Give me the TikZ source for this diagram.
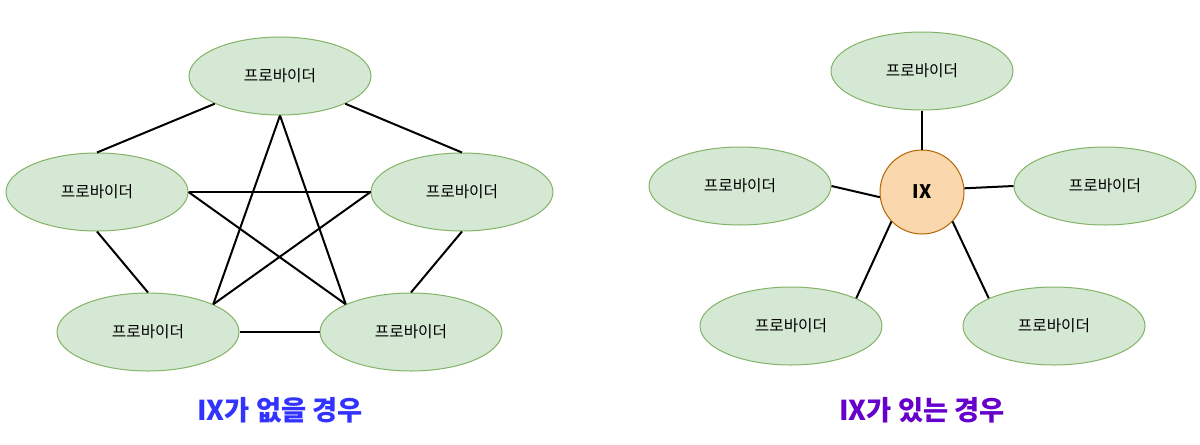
\documentclass[tikz,border=0pt]{standalone}
\usepackage{fontspec}
\setmainfont{Noto Sans CJK KR}
\usetikzlibrary{shapes.geometric}
\definecolor{provfill}{HTML}{D5E8D4}
\definecolor{provdraw}{HTML}{82B366}
\definecolor{ixfill}{HTML}{FAD7AC}
\definecolor{ixdraw}{HTML}{B46504}
\definecolor{titleblue}{HTML}{3333FF}
\definecolor{titlepurple}{HTML}{6600CC}
\tikzset{
  prov/.style={ellipse, draw=provdraw, fill=provfill, line width=0.75pt,
    minimum width=136.5pt, minimum height=58.5pt, inner sep=0pt,
    font=\fontsize{11.8pt}{13pt}\selectfont},
  ixnode/.style={circle, draw=ixdraw, fill=ixfill, line width=0.75pt,
    minimum size=63pt, inner sep=0pt, font=\fontsize{14pt}{16pt}\selectfont\bfseries},
  link/.style={line width=1.5pt, black},
  ttl/.style={font=\fontsize{20.5pt}{23pt}\selectfont\bfseries}
}
\begin{document}
\begin{tikzpicture}[x=0.75pt,y=-0.75pt]
\useasboundingbox (0,0) rectangle (1200,444);
% left diagram
\node[prov] (t) at (280,76) {프로바이더};
\node[prov] (l) at (97,192) {프로바이더};
\node[prov] (r) at (462,192) {프로바이더};
\node[prov] (bl) at (148,332) {프로바이더};
\node[prov] (br) at (411,332) {프로바이더};
\draw[link] (t.203) -- (l.north);
\draw[link] (t.337) -- (r.north);
\draw[link] (l.south) -- (bl.north);
\draw[link] (r.south) -- (br.north);
\draw[link] (bl.east) -- (br.west);
\draw[link] (l.east) -- (r.west);
\draw[link] (t.south) -- (bl.23);
\draw[link] (t.south) -- (br.157);
\draw[link] (l.east) -- (br.157);
\draw[link] (r.west) -- (bl.23);
\node[ttl, text=titleblue] (ta) at (280,410) {IX가 없을 경우};
% right diagram
\node[ixnode] (ix) at (922,192) {IX};
\node[prov] (rt) at (922,71) {프로바이더};
\node[prov] (rl) at (740,186) {프로바이더};
\node[prov] (rr) at (1105,186) {프로바이더};
\node[prov] (rbl) at (791,326) {프로바이더};
\node[prov] (rbr) at (1054,326) {프로바이더};
\draw[link] (rt.south) -- (ix.north);
\draw[link] (rl.east) -- (ix.187);
\draw[link] (ix.5) -- (rr.west);
\draw[link] (ix.224) -- (rbl.23);
\draw[link] (ix.316) -- (rbr.157);
\node[ttl, text=titlepurple] (tb) at (922,410) {IX가 있는 경우};
\end{tikzpicture}
\end{document}
